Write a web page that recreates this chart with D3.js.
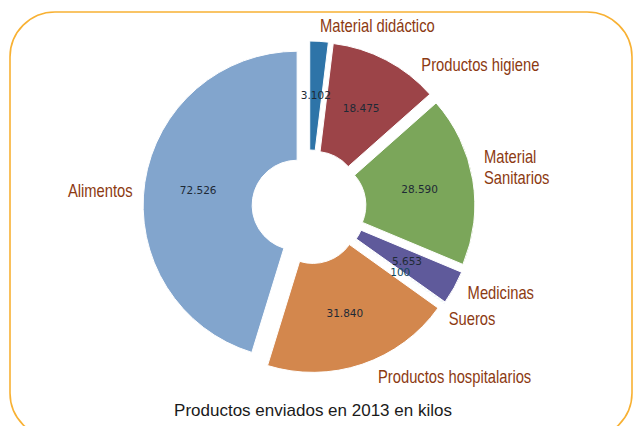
<!DOCTYPE html>
<html><head><meta charset="utf-8">
<script src="https://cdn.jsdelivr.net/npm/d3@7"></script>
<style>html,body{margin:0;padding:0;background:#fff;overflow:hidden}</style>
</head><body>
<svg id="c" width="633" height="426"></svg>
<script>
// ---- data ----
const categories = ["Material didáctico", "Productos higiene", "Material Sanitarios", "Medicinas", "Sueros", "Productos hospitalarios", "Alimentos"];
const values = [3102, 18475, 28590, 5653, 100, 31840, 72526];
const title = "Productos enviados en 2013 en kilos";

// ---- styles ----
const palette = ["#2e74a8", "#9c4448", "#7ba65a", "#5f5a9b", "#3f9fb8", "#d3874d", "#82a5cd"];
const labelLines = {"Material Sanitarios": ["Material", "Sanitarios"]};
const labelNudge = {
  "Material didáctico": [0, 0],
  "Productos higiene": [28, 18],
  "Material Sanitarios": [-4, -10],
  "Medicinas": [0, -3],
  "Sueros": [-8, 6],
  "Productos hospitalarios": [11, -2],
  "Alimentos": [3, 10]
};

const svg = d3.select("#c");
svg.append("rect").attr("x", 10).attr("y", 12).attr("width", 622).attr("height", 426)
  .attr("rx", 45).attr("fill", "none").attr("stroke", "#f8b133").attr("stroke-width", 1.6);

const cx = 309, cy = 207, R = 154, r0 = 45, explode = 12;
const color = d3.scaleOrdinal().domain(categories).range(palette);
const pie = d3.pie().value(d => d.value).sort(null).startAngle(0).endAngle(2 * Math.PI);
const data = categories.map((c, i) => ({cat: c, value: values[i]}));
const arcs = pie(data);
arcs.forEach(a => {
  a.mid = (a.startAngle + a.endAngle) / 2;
  a.dx = explode * Math.sin(a.mid);
  a.dy = -explode * Math.cos(a.mid);
});
const arc = d3.arc().innerRadius(r0).outerRadius(R);
const fmt = d3.formatLocale({decimal: ",", thousands: ".", grouping: [3], currency: ["", "€"]}).format(",d");

const g = svg.append("g").attr("transform", `translate(${cx},${cy})`);
g.selectAll("path.w").data(arcs).join("path").attr("class", "w")
  .attr("transform", d => `translate(${d.dx},${d.dy})`)
  .attr("d", arc)
  .attr("fill", d => color(d.data.cat))
  .attr("stroke", "#fff").attr("stroke-width", 1);

const pd = 0.65 * R;
g.selectAll("text.v").data(arcs).join("text").attr("class", "v")
  .attr("x", d => d.dx + pd * Math.sin(d.mid))
  .attr("y", d => d.dy - pd * Math.cos(d.mid))
  .attr("text-anchor", "middle").attr("dominant-baseline", "central")
  .attr("font-family", "DejaVu Sans").attr("font-size", 10.5)
  .attr("fill", d => d.data.cat === "Sueros" ? "#12495a" : "#1e2a36")
  .text(d => fmt(d.data.value));

const ld = 1.1 * R;
const narrow = 0.82;
g.selectAll("g.l").data(arcs).join("g").attr("class", "l")
  .each(function(d) {
    const n = labelNudge[d.data.cat] || [0, 0];
    const x = d.dx + ld * Math.sin(d.mid) + n[0];
    const y = d.dy - ld * Math.cos(d.mid) + n[1];
    const lines = labelLines[d.data.cat] || [d.data.cat];
    const lh = 21;
    const t = d3.select(this).attr("transform", `translate(${x},${y}) scale(${narrow},1)`)
      .append("text")
      .attr("font-family", "'Liberation Sans', Arial, sans-serif")
      .attr("font-size", 18).attr("fill", "#8c3a12")
      .attr("text-anchor", Math.sin(d.mid) >= 0 ? "start" : "end");
    lines.forEach((s, i) => {
      t.append("tspan").attr("x", 0).attr("y", (i - (lines.length - 1) / 2) * lh)
        .attr("dominant-baseline", "central").text(s);
    });
  });

svg.append("text").attr("x", 313).attr("y", 410)
  .attr("text-anchor", "middle").attr("dominant-baseline", "central")
  .attr("font-family", "'Liberation Sans', Arial, sans-serif").attr("font-size", 17)
  .attr("fill", "#1a1a1a").text(title);
</script>
</body></html>
